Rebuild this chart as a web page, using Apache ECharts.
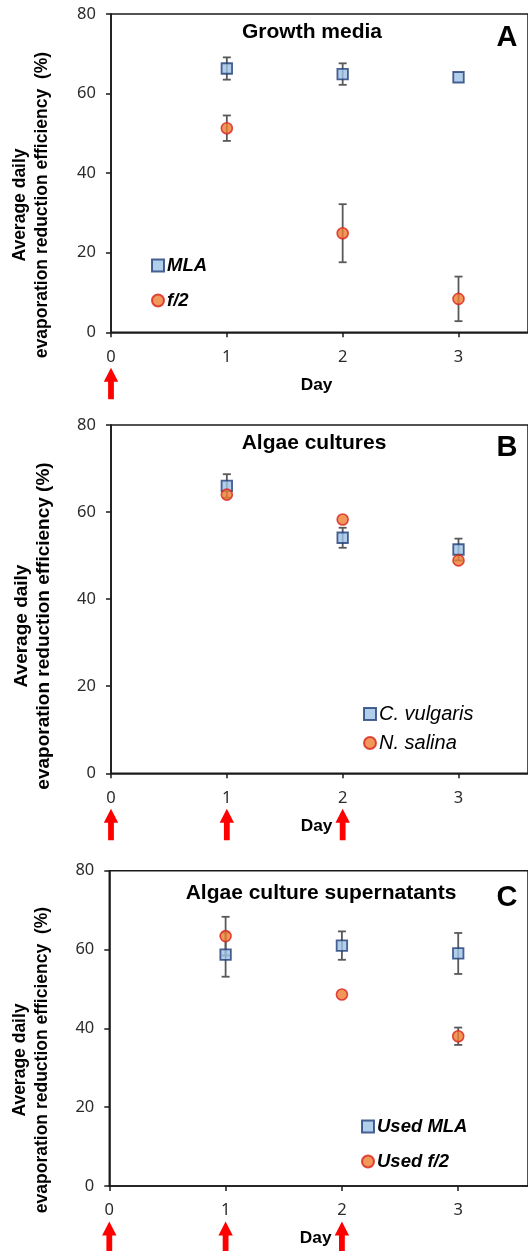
<!DOCTYPE html>
<html>
<head>
<meta charset="utf-8">
<script src="https://cdn.jsdelivr.net/npm/echarts@6/dist/echarts.min.js"></script>
<style>
html,body{margin:0;padding:0;background:#fff;}
#chart{width:528px;height:1251px;}
</style>
</head>
<body>
<div id="chart"></div>
<script>
// ---- data ----
const days = [1, 2, 3];
const yTicks = [0, 20, 40, 60, 80];
const xTicks = [0, 1, 2, 3];

const titleA = 'Growth media';
const mlaA = [66.3, 64.9, 64.1];
const mlaAErr = [2.8, 2.7, 0];
const f2A = [51.3, 24.9, 8.4];
const f2AErr = [3.2, 7.3, 5.6];
const arrowsA = [0];

const titleB = 'Algae cultures';
const cvB = [66.0, 54.1, 51.4];
const cvBErr = [2.7, 2.3, 2.5];
const nsB = [64.0, 58.3, 48.9];
const nsBErr = [0, 0, 0];
const arrowsB = [0, 1, 2];

const titleC = 'Algae culture supernatants';
const mlaC = [58.7, 61.0, 59.0];
const mlaCErr = [5.6, 3.6, 5.2];
const f2C = [63.4, 48.6, 38.0];
const f2CErr = [4.9, 0, 2.2];
const arrowsC = [0, 1, 2];

// ---- layout ----
const panels = [
  {left:111, top:14, height:318.3, unit:119, title:titleA, letter:'A', titleY:32, letterY:38, titleX:312,
   ylab:['Average daily','evaporation reduction efficiency  (%)'], yFont:17.5, yCenter:205, yl1:20, yl2:42,
   s:[{name:'MLA', v:mlaA, e:mlaAErr, sym:'sq'},{name:'f/2', v:f2A, e:f2AErr, sym:'ci'}], arrows:arrowsA,
   legend:{left:146, top:251, gap:16, font:'italic bold 18.5px "Liberation Sans", Arial'}},
  {left:111, top:425, height:348.3, unit:118.8, title:titleB, letter:'B', titleY:443, letterY:448, titleX:314,
   ylab:['Average daily','evaporation reduction efficiency (%)'], yFont:19, yCenter:626, yl1:21.5, yl2:43.5,
   s:[{name:'C. vulgaris', v:cvB, e:cvBErr, sym:'sq'},{name:'N. salina', v:nsB, e:nsBErr, sym:'ci'}], arrows:arrowsB,
   legend:{left:358, top:699, gap:9, font:'italic 20px "Liberation Sans", Arial'}},
  {left:109.3, top:870.7, height:315.3, unit:117.9, title:titleC, letter:'C', titleY:893, letterY:898, titleX:321,
   ylab:['Average daily','evaporation reduction efficiency  (%)'], yFont:17.5, yCenter:1060, yl1:20, yl2:41.7,
   s:[{name:'Used MLA', v:mlaC, e:mlaCErr, sym:'sq'},{name:'Used f/2', v:f2C, e:f2CErr, sym:'ci'}], arrows:arrowsC,
   legend:{left:356, top:1112, gap:16, font:'italic bold 18.5px "Liberation Sans", Arial'}}
];

const XMAX = 3.6;
const sqStyle = {color:'#9DC3E6', borderColor:'#1F3D78', borderWidth:1.8};
const ciStyle = {color:'#ED7D31', borderColor:'#D8201A', borderWidth:1.6};

const grids = [], xAxes = [], yAxes = [], series = [], legends = [], graphics = [];

function fontParts(f){
  const m = f.match(/^(italic )?(bold )?([\d.]+)px (.*)$/);
  return {fontStyle: m[1] ? 'italic':'normal', fontWeight: m[2] ? 'bold':'normal', fontSize: parseFloat(m[3]), fontFamily: m[4]};
}

panels.forEach((p, i) => {
  grids.push({left:p.left, top:p.top, height:p.height, width:p.unit*XMAX, show:true, borderColor:'#1a1a1a', borderWidth:1.5, backgroundColor:'transparent'});
  xAxes.push({
    gridIndex:i, type:'value', min:0, max:XMAX, interval:1,
    name:'Day', nameLocation:'middle', nameGap:44,
    nameTextStyle:{fontFamily:'"Liberation Sans", Arial', fontWeight:'bold', fontSize:17.3, color:'#000', padding:[0,0,0,-6]},
    axisLine:{show:true, lineStyle:{color:'#1a1a1a', width:1.6}},
    axisTick:{show:true, inside:false, length:5, lineStyle:{color:'#1a1a1a', width:1.5}},
    axisLabel:{show:true, margin:16, showMaxLabel:false, fontFamily:'"Noto Sans"', fontSize:16.5, color:'#2b2b2b',
      formatter: v => (xTicks.indexOf(v) >= 0 ? String(v) : '')},
    splitLine:{show:false}
  });
  yAxes.push({
    gridIndex:i, type:'value', min:0, max:80, interval:20,
    axisLine:{show:true, lineStyle:{color:'#1a1a1a', width:1.6}},
    axisTick:{show:true, inside:false, length:5, lineStyle:{color:'#1a1a1a', width:1.5}},
    axisLabel:{show:true, margin:15, fontFamily:'"Noto Sans"', fontSize:16.5, color:'#2b2b2b',
      formatter: v => (yTicks.indexOf(v) >= 0 ? String(v) : '')},
    splitLine:{show:false}
  });

  // error bars (drawn first)
  p.s.forEach((s, k) => {
    series.push({
      type:'custom', xAxisIndex:i, yAxisIndex:i, z:2, silent:true,
      data: days.map((d, j) => [d, s.v[j], s.e[j]]),
      encode:{x:0, y:1},
      renderItem: (params, api) => {
        const x = api.value(0), v = api.value(1), e = api.value(2);
        if (!(e > 0)) return null;
        const hi = api.coord([x, v + e]), lo = api.coord([x, v - e]);
        const c = 4;
        const st = {stroke:'#595959', lineWidth:1.8};
        return {type:'group', children:[
          {type:'line', shape:{x1:hi[0], y1:hi[1], x2:lo[0], y2:lo[1]}, style:st},
          {type:'line', shape:{x1:hi[0]-c, y1:hi[1], x2:hi[0]+c, y2:hi[1]}, style:st},
          {type:'line', shape:{x1:lo[0]-c, y1:lo[1], x2:lo[0]+c, y2:lo[1]}, style:st}
        ]};
      }
    });
  });
  // markers
  p.s.forEach((s, k) => {
    series.push({
      name:s.name, type:'scatter', xAxisIndex:i, yAxisIndex:i, z:3 + k,
      symbol: s.sym === 'sq' ? 'rect' : 'circle',
      symbolSize: s.sym === 'sq' ? 10.5 : 11,
      itemStyle: s.sym === 'sq' ? sqStyle : ciStyle,
      data: days.map((d, j) => [d, s.v[j]])
    });
  });
  // arrows (below axis, at given days)
  series.push({
    type:'custom', xAxisIndex:i, yAxisIndex:i, z:5, silent:true, clip:false,
    data: p.arrows.map(d => [d, 0]),
    encode:{x:0, y:1},
    renderItem: (params, api) => {
      const pt = api.coord([api.value(0), 0]);
      const x = pt[0], y0 = pt[1] + 35.5;
      const hw = 7.2, sw = 2.9, hh = 14, L = 31.5;
      return {type:'polygon', shape:{points:[
        [x, y0], [x+hw, y0+hh], [x+sw, y0+hh], [x+sw, y0+L], [x-sw, y0+L], [x-sw, y0+hh], [x-hw, y0+hh]
      ]}, style:{fill:'#FF0000'}};
    }
  });

  const lf = fontParts(p.legend.font);
  legends.push({
    data: p.s.map(s => s.name), orient:'vertical', left:p.legend.left, top:p.legend.top,
    itemWidth:12, itemHeight:12, itemGap:p.legend.gap, selectedMode:false,
    textStyle:{fontStyle:lf.fontStyle, fontWeight:lf.fontWeight, fontSize:lf.fontSize, fontFamily:lf.fontFamily, color:'#000', padding:[0,0,0,-2]}
  });

  graphics.push({type:'text', x:p.titleX, y:p.titleY, style:{text:p.title, font:'bold 21px "Liberation Sans", Arial', fill:'#000', textAlign:'center', textVerticalAlign:'middle'}});
  graphics.push({type:'text', x:507, y:p.letterY, style:{text:p.letter, font:'bold 29px "Liberation Sans", Arial', fill:'#000', textAlign:'center', textVerticalAlign:'middle'}});
  graphics.push({type:'text', x:p.yl1, y:p.yCenter, rotation:Math.PI/2, style:{text:p.ylab[0], font:'bold '+p.yFont+'px "Liberation Sans", Arial', fill:'#000', textAlign:'center', textVerticalAlign:'middle'}});
  graphics.push({type:'text', x:p.yl2, y:p.yCenter, rotation:Math.PI/2, style:{text:p.ylab[1], font:'bold '+p.yFont+'px "Liberation Sans", Arial', fill:'#000', textAlign:'center', textVerticalAlign:'middle'}});
});

const chart = echarts.init(document.getElementById('chart'), null, {renderer:'canvas'});
chart.setOption({
  animation:false,
  backgroundColor:'#fff',
  grid:grids, xAxis:xAxes, yAxis:yAxes, series:series, legend:legends,
  graphic:graphics
});
</script>
</body>
</html>
